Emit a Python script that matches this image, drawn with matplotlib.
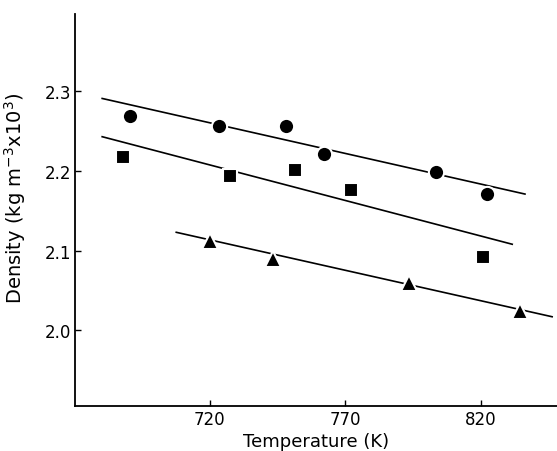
import matplotlib.pyplot as plt

# data
circle_T = [690.6, 723.4, 748.2, 762.0, 803.3, 822.2]
circle_rho = [2.269, 2.256, 2.256, 2.221, 2.199, 2.171]
square_T = [688.1, 727.4, 751.6, 772.1, 820.8]
square_rho = [2.217, 2.194, 2.201, 2.176, 2.092]
triangle_T = [720.0, 743.3, 793.3, 834.2]
triangle_rho = [2.112, 2.090, 2.059, 2.024]

# fitted lines (end points)
circle_fit_T = [680.4, 836.2]
circle_fit_rho = [2.291, 2.171]
square_fit_T = [680.4, 831.5]
square_fit_rho = [2.243, 2.108]
triangle_fit_T = [707.7, 846.2]
triangle_fit_rho = [2.123, 2.017]

xticks = [720, 770, 820]
yticks = [2.0, 2.1, 2.2, 2.3]

plt.rcParams['font.family'] = ['DejaVu Sans']

fig = plt.figure(figsize=(5.57, 4.52), dpi=100)
ax = fig.add_axes([0.1347, 0.0996, 0.8653, 0.8672])

ax.plot(circle_fit_T, circle_fit_rho, color='black', lw=1.2)
ax.plot(square_fit_T, square_fit_rho, color='black', lw=1.2)
ax.plot(triangle_fit_T, triangle_fit_rho, color='black', lw=1.2)

ax.plot(circle_T, circle_rho, 'o', color='black', ms=11, mec='white', mew=1.5)
ax.plot(square_T, square_rho, 's', color='black', ms=10.5, mec='white', mew=1.5)
ax.plot(triangle_T, triangle_rho, '^', color='black', ms=12, mec='white', mew=1.5)

ax.set_xlim(670.4, 848)
ax.set_ylim(1.905, 2.397)
ax.set_xticks(xticks)
ax.set_xticklabels([str(t) for t in xticks])
ax.set_yticks(yticks)
ax.set_yticklabels([f"{t:.1f}" for t in yticks])
ax.tick_params(direction='in', length=4, width=1, labelsize=12, pad=3)
ax.spines['top'].set_visible(False)
ax.spines['right'].set_visible(False)
ax.spines['left'].set_linewidth(1.3)
ax.spines['bottom'].set_linewidth(1.3)

ax.set_xlabel("Temperature (K)", fontsize=13, labelpad=3)
ax.set_ylabel(r"Density (kg m$^{-3}$x10$^{3}$)", fontsize=14)
ax.yaxis.set_label_coords(-0.097, 0.532)

plt.savefig("out.png", dpi=100)
